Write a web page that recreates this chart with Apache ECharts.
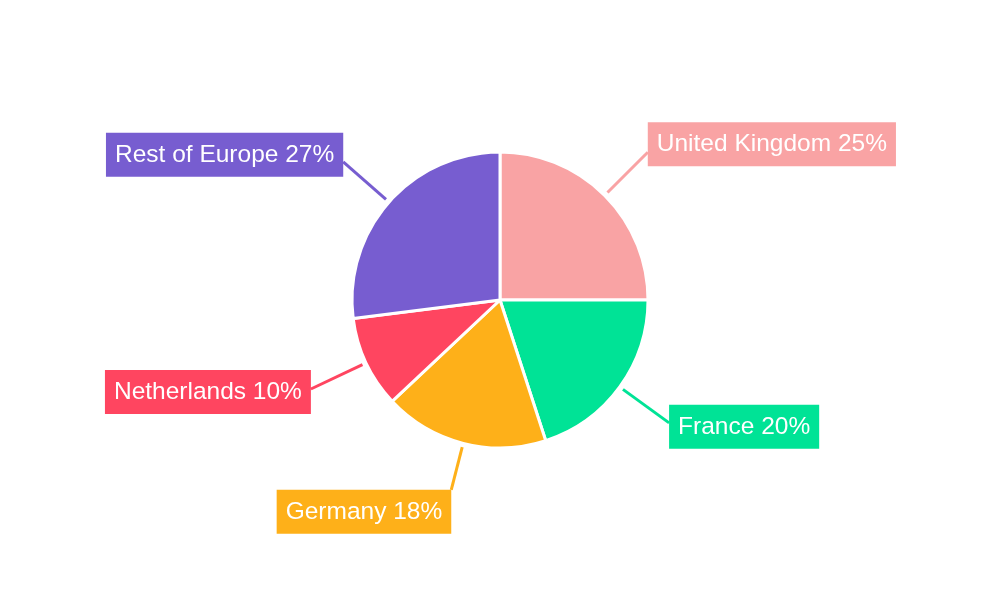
<!DOCTYPE html>
<html>
<head>
<meta charset="utf-8">
<script src="https://cdn.jsdelivr.net/npm/echarts@6/dist/echarts.min.js"></script>
<style>html,body{margin:0;padding:0;background:#fff}#c{width:1000px;height:600px}</style>
</head>
<body>
<div id="c"></div>
<script>
const categories = ['United Kingdom', 'France', 'Germany', 'Netherlands', 'Rest of Europe'];
const shares = [25, 20, 18, 10, 27];
const colors = ['#F9A3A4', '#00E396', '#FEB019', '#FF4560', '#775DD0'];

// label placement tweaks (style only)
const labelTweaks = {
  'United Kingdom': { dy: -8 },
  'France': { dy: 4 },
  'Germany': { va: 'top', shorten: 13 },
  'Netherlands': { dy: 3 },
  'Rest of Europe': { dy: -7 }
};

const chart = echarts.init(document.getElementById('c'));
chart.setOption({
  animation: false,
  backgroundColor: '#ffffff',
  series: [{
    type: 'pie',
    center: ['50%', '50%'],
    radius: 148,
    startAngle: 90,
    clockwise: true,
    avoidLabelOverlap: false,
    data: categories.map((n, i) => ({
      name: n, value: shares[i],
      itemStyle: { color: colors[i] },
      label: { backgroundColor: colors[i] },
      labelLine: { lineStyle: { color: colors[i] } }
    })),
    itemStyle: { borderColor: '#ffffff', borderWidth: 3 },
    label: {
      show: true,
      position: 'outside',
      formatter: p => p.name + ' ' + p.value + '%',
      color: '#ffffff',
      fontFamily: 'Liberation Sans, Arial, sans-serif',
      fontSize: 24.5,
      lineHeight: 24,
      padding: [10, 9],
      distanceToLabelLine: 0
    },
    labelLine: { show: true, length: 61, length2: 0, smooth: false, lineStyle: { width: 3 } },
    labelLayout: function (params) {
      const pts = params.labelLinePoints;
      if (!pts) return {};
      const a = pts[0], b = pts[pts.length - 1];
      const dx = b[0] - a[0], dy = b[1] - a[1];
      const d = Math.sqrt(dx * dx + dy * dy) || 1;
      const ux = dx / d, uy = dy / d;
      const t = labelTweaks[categories[params.dataIndex]] || {};
      const sh = t.shorten || 0;
      const end = [b[0] - ux * sh, b[1] - uy * sh];
      const start = [a[0] + ux * 4, a[1] + uy * 4];
      return {
        x: end[0],
        y: end[1] + (t.dy || 0),
        align: dx < 0 ? 'right' : 'left',
        verticalAlign: t.va || 'middle',
        labelLinePoints: [start, end]
      };
    }
  }]
});
</script>
</body>
</html>
